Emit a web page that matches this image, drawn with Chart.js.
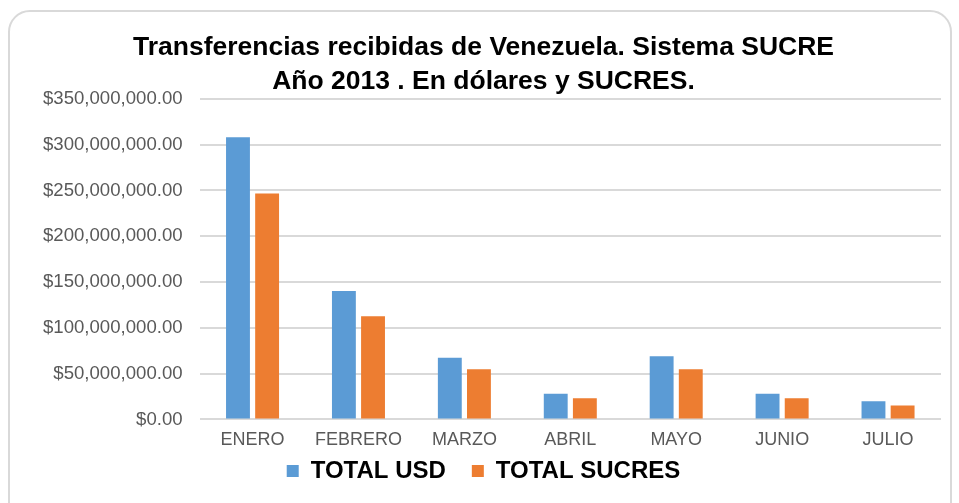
<!DOCTYPE html>
<html>
<head>
<meta charset="utf-8">
<script src="https://cdn.jsdelivr.net/npm/chart.js@4"></script>
<style>
  html, body { margin: 0; padding: 0; background: #fff; }
  #card {
    position: absolute; left: 8px; top: 10px; width: 944px; height: 520px;
    border: 2px solid #d9d9d9; border-radius: 22px; box-sizing: border-box;
  }
  #wrap { position: absolute; left: 0; top: 0; width: 959px; height: 503px; }
</style>
</head>
<body>
<div id="card"></div>
<div id="wrap"><canvas id="chart" width="959" height="503"></canvas></div>
<script>
// months shown on the x axis
const meses = ['ENERO', 'FEBRERO', 'MARZO', 'ABRIL', 'MAYO', 'JUNIO', 'JULIO'];

// values
const totalUsd = [308000000, 140300000, 67400000, 28000000, 68900000, 28000000, 19700000];
const totalSucres = [246700000, 112700000, 54700000, 23000000, 54700000, 23000000, 15300000];

const tituloLineas = ['Transferencias recibidas de Venezuela. Sistema SUCRE', 'Año 2013 . En dólares y SUCRES.'];

const azul = '#5B9BD5';
const naranja = '#ED7D31';

function formatoDinero(v) {
    return '$' + Number(v).toLocaleString('en-US', { minimumFractionDigits: 2, maximumFractionDigits: 2 });
}

new Chart(document.getElementById('chart'), {
    type: 'bar',
    data: {
        labels: meses,
        datasets: [
            { label: 'TOTAL USD', data: totalUsd, backgroundColor: azul, categoryPercentage: 0.55, barPercentage: 0.82 },
            { label: 'TOTAL SUCRES', data: totalSucres, backgroundColor: naranja, categoryPercentage: 0.55, barPercentage: 0.82 }
        ]
    },
    options: {
        responsive: false,
        animation: false,
        layout: { padding: { left: 26, right: 18, top: 30, bottom: 10 } },
        plugins: {
            title: {
                display: true,
                text: tituloLineas,
                color: '#000',
                font: { family: 'Liberation Sans', size: 26.5, weight: 'bold', lineHeight: 1.3 },
                padding: { top: 0, bottom: 0 }
            },
            legend: {
                position: 'bottom',
                labels: {
                    color: '#000',
                    font: { family: 'Liberation Sans', size: 24, weight: 'bold' },
                    boxWidth: 12,
                    boxHeight: 12,
                    padding: 6,
                    // wider gap between the two entries, like the original
                    generateLabels(chart) {
                        const items = Chart.defaults.plugins.legend.labels.generateLabels(chart);
                        items[0].text += '   ';
                        return items;
                    }
                }
            },
            tooltip: { enabled: false }
        },
        scales: {
            x: {
                grid: { display: false },
                border: { display: false },
                ticks: { color: '#595959', font: { family: 'Liberation Sans', size: 18 }, padding: 2 }
            },
            y: {
                min: 0,
                max: 350000000,
                ticks: {
                    stepSize: 50000000,
                    color: '#595959',
                    font: { family: 'Liberation Sans', size: 18.6 },
                    padding: 17,
                    callback: formatoDinero
                },
                grid: { color: '#d9d9d9', lineWidth: 2, drawTicks: false },
                border: { display: false }
            }
        }
    }
});
</script>
</body>
</html>
